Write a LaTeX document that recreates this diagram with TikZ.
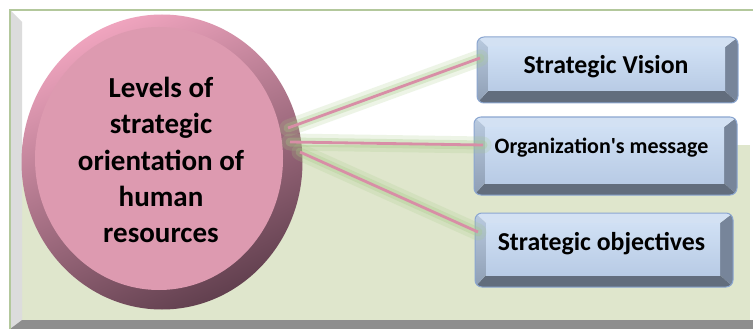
\documentclass[tikz,border=0pt]{standalone}
\usepackage{fontspec}
\setmainfont{Carlito}
\usetikzlibrary{calc,shapes.geometric}

% palette
\definecolor{panelgreen}{HTML}{DFE6CC}
\definecolor{bevelgray}{HTML}{DCDCDC}
\definecolor{basegray}{HTML}{8E8E8E}
\definecolor{rimgreen}{HTML}{B3C89C}
\definecolor{ringlight}{HTML}{EFA4BE}
\definecolor{ringdark}{HTML}{62404F}
\definecolor{facepink}{HTML}{DD9AB0}
\definecolor{boxoutline}{HTML}{8BA6D0}
\definecolor{bevtop}{HTML}{D3E1F3}
\definecolor{bevlefttop}{HTML}{B9CADF}
\definecolor{bevleftbot}{HTML}{8E9EB4}
\definecolor{bevright}{HTML}{77859A}
\definecolor{bevbottom}{HTML}{626D7D}
\definecolor{facetop}{HTML}{D0E0F4}
\definecolor{facebot}{HTML}{B8CBE5}
\definecolor{glowgreen}{HTML}{A6CB86}
\definecolor{linkpink}{HTML}{D88EA6}

% bevelled button behind a named rectangle node
\newcommand\bevelframe[1]{%
  \begin{scope}
    \clip[rounded corners=7pt] (#1.north west) rectangle (#1.south east);
    \fill[bevbottom] (#1.south west) -- (#1.south east) -- ($(#1.south east)+(-13,-12)$) -- ($(#1.south west)+(11,-12)$) -- cycle;
    \fill[bevright] (#1.north east) -- (#1.south east) -- ($(#1.south east)+(-13,-12)$) -- ($(#1.north east)+(-13,10)$) -- cycle;
    \fill[bevtop] (#1.north west) -- (#1.north east) -- ($(#1.north east)+(-13,10)$) -- ($(#1.north west)+(11,10)$) -- cycle;
    \shade[top color=bevlefttop, bottom color=bevleftbot] (#1.north west) -- ($(#1.north west)+(11,10)$) -- ($(#1.south west)+(11,-12)$) -- (#1.south west) -- cycle;
    \shade[top color=facetop, bottom color=facebot] ($(#1.north west)+(11,10)$) rectangle ($(#1.south east)+(-13,-12)$);
  \end{scope}
  \draw[boxoutline, line width=1pt, rounded corners=7pt] (#1.north west) rectangle (#1.south east);}

\tikzset{
  boxshape/.style={rectangle, inner sep=0pt, outer sep=0pt},
  boxtext/.style={font=\fontsize{25.8}{30}\selectfont\bfseries, inner sep=0pt, text=black, anchor=base},
  smalltext/.style={boxtext, font=\fontsize{22}{26}\selectfont\bfseries},
  circtext/.style={font=\fontsize{29}{36.25}\selectfont\bfseries, align=center, inner sep=0pt, text=black},
  glowwide/.style={line width=17pt, draw=glowgreen, opacity=0.2, line cap=round},
  glownarrow/.style={line width=9pt, draw=glowgreen, opacity=0.3, line cap=round},
  link/.style={line width=2.8pt, draw=linkpink},
}

\begin{document}
\begin{tikzpicture}[x=1pt,y=-1pt]
\useasboundingbox (0,0) rectangle (753,329);
\fill[white] (0,0) rectangle (753,329);

% panel: tinted lower half, bevelled left and bottom edges, thin rim
\fill[panelgreen] (22,145) rectangle (750,320);
\fill[bevelgray] (10,10) -- (22,22) -- (22,320) -- (10,329) -- cycle;
\fill[basegray] (10,329) -- (22,320) -- (753,320) -- (753,329) -- cycle;
\draw[rimgreen, line width=1.2pt] (10,329) -- (10,10) -- (753,10);

% central disc
\node[ellipse, minimum width=281pt, minimum height=295pt, inner sep=0pt, outer sep=0pt,
      top color=ringlight, bottom color=ringdark, shading angle=25] (circ) at (162,162) {};
\node[ellipse, minimum width=248pt, minimum height=263pt, inner sep=0pt, fill=facepink] (face) at (159,158.5) {};
\node[circtext] (circlabel) at (161,160) {Levels of\\strategic\\orientation of\\human\\resources};

% buttons
\node[boxshape, minimum width=261pt, minimum height=66pt] (vision) at (607.5,70) {};
\node[boxshape, minimum width=263pt, minimum height=78pt] (message) at (605.5,156) {};
\node[boxshape, minimum width=258pt, minimum height=74pt] (objectives) at (604,250) {};
\bevelframe{vision}
\bevelframe{message}
\bevelframe{objectives}
\node[boxtext] (visiontext) at ($(vision.center)+(-1.5,3.3)$) {Strategic Vision};
\node[smalltext] (messagetext) at ($(message.center)+(-4,-2.7)$) {Organization\textquotesingle s message};
\node[boxtext] (objectivestext) at ($(objectives.center)+(-2.5,0)$) {Strategic objectives};

% connectors with soft glow
\foreach \dx/\dy/\target/\ex/\ey in {126/-34/vision/3/-12, 128/-20/message/9/-11, 138/-10/objectives/3/-18}{
  \draw[glowwide] ($(circ.center)+(\dx,\dy)$) -- ($(\target.west)+(\ex,\ey)$);
  \draw[glownarrow] ($(circ.center)+(\dx,\dy)$) -- ($(\target.west)+(\ex,\ey)$);
}
\foreach \dx/\dy/\target/\ex/\ey in {126/-34/vision/3/-12, 128/-20/message/9/-11, 138/-10/objectives/3/-18}{
  \draw[link] ($(circ.center)+(\dx,\dy)$) -- ($(\target.west)+(\ex,\ey)$);
}
\end{tikzpicture}
\end{document}
